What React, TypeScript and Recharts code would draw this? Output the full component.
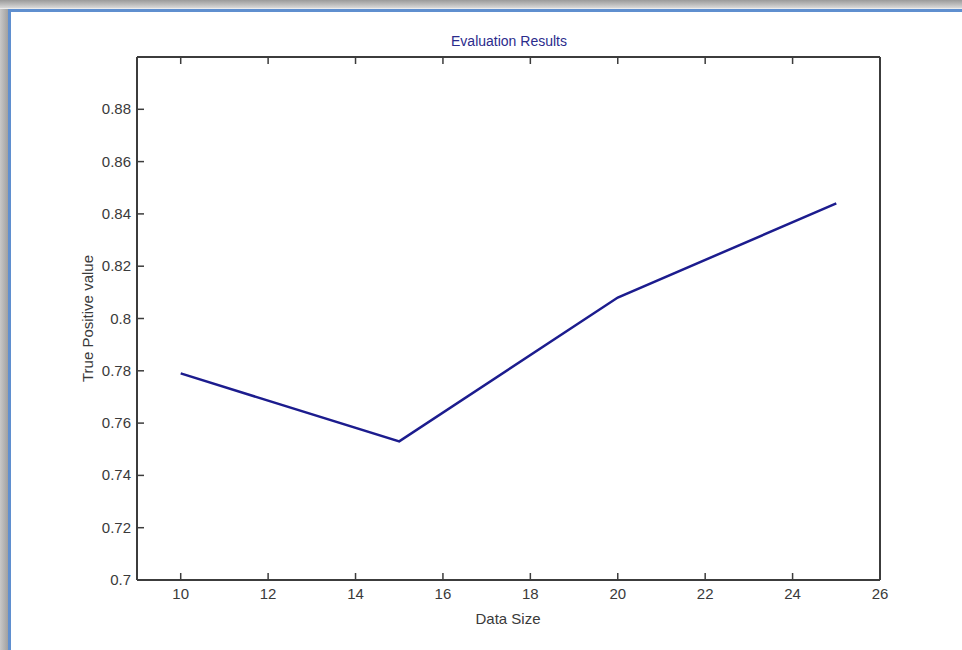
import React from "react";
import { LineChart, Line, XAxis, YAxis } from "recharts";

// values
const dataSizes = [10, 15, 20, 25];
const truePositive = [0.779, 0.753, 0.808, 0.844];

const xTicks = [10, 12, 14, 16, 18, 20, 22, 24, 26];
const yTicks = [0.7, 0.72, 0.74, 0.76, 0.78, 0.8, 0.82, 0.84, 0.86, 0.88];

const data = dataSizes.map((x, i) => ({ x, tp: truePositive[i] }));

const AXIS = "#3c3c3c";
const TEXT = "#3a3a3a";
const FONT = "'Liberation Sans', Arial, sans-serif";
const TICK_LEN = 7;
const GAP = 9;

// bottom axis: label below, tick mark pointing up into the plot
const BottomTick = (props: any) => {
  const { x, y, payload } = props;
  const axisY = y - GAP;
  return (
    <g>
      <line x1={x} x2={x} y1={axisY} y2={axisY - TICK_LEN} stroke={AXIS} strokeWidth={1.5} />
      <text x={x} y={axisY + 19} textAnchor="middle" fontSize={15} fill={TEXT} fontFamily={FONT}>
        {payload.value}
      </text>
    </g>
  );
};

const TopTick = (props: any) => {
  const { x, y } = props;
  const axisY = y + GAP;
  return <line x1={x} x2={x} y1={axisY} y2={axisY + TICK_LEN} stroke={AXIS} strokeWidth={1.5} />;
};

const LeftTick = (props: any) => {
  const { x, y, payload } = props;
  const axisX = x + GAP;
  return (
    <g>
      <line x1={axisX} x2={axisX + TICK_LEN} y1={y} y2={y} stroke={AXIS} strokeWidth={1.5} />
      <text x={axisX - 6} y={y + 5} textAnchor="end" fontSize={15} fill={TEXT} fontFamily={FONT}>
        {Number(payload.value.toFixed(2)).toString()}
      </text>
    </g>
  );
};

const RightTick = (props: any) => {
  const { x, y } = props;
  const axisX = x - GAP;
  return <line x1={axisX} x2={axisX - TICK_LEN} y1={y} y2={y} stroke={AXIS} strokeWidth={1.5} />;
};

export default function App() {
  return (
    <div
      style={{
        position: "absolute",
        left: 0,
        top: 0,
        width: 962,
        height: 650,
        overflow: "hidden",
        background: "linear-gradient(to bottom, #9a9a9a 0px, #d8d8d8 8px, #fff 9px)",
      }}
    >
      <div
        style={{
          position: "absolute",
          left: 0,
          top: 9,
          width: 8,
          height: 641,
          background: "linear-gradient(to right, #c8c8c8, #a0a0a0)",
        }}
      />
      <div
        style={{
          position: "absolute",
          left: 8,
          top: 9,
          width: 954,
          height: 641,
          background: "#fff",
          borderLeft: "3px solid #5f8fcf",
          borderTop: "3px solid #5f8fcf",
          boxSizing: "border-box",
        }}
      />
      <div style={{ position: "absolute", left: 0, top: 0 }}>
        <LineChart
          width={962}
          height={650}
          data={data}
          margin={{ top: 27, right: 52, bottom: 40, left: 77 }}
        >
          <text x={509} y={46} textAnchor="middle" fontSize={14} fill="#2b2b8c" fontFamily={FONT}>
            Evaluation Results
          </text>
          <XAxis
            xAxisId="bottom"
            dataKey="x"
            type="number"
            domain={[9, 26]}
            ticks={xTicks}
            interval={0}
            height={30}
            tickSize={0}
            tickMargin={GAP}
            tickLine={false}
            axisLine={{ stroke: AXIS, strokeWidth: 2 }}
            tick={<BottomTick />}
          />
          <XAxis
            xAxisId="top"
            orientation="top"
            dataKey="x"
            type="number"
            domain={[9, 26]}
            ticks={xTicks}
            interval={0}
            height={30}
            tickSize={0}
            tickMargin={GAP}
            tickLine={false}
            axisLine={{ stroke: AXIS, strokeWidth: 2 }}
            tick={<TopTick />}
          />
          <YAxis
            yAxisId="left"
            type="number"
            domain={[0.7, 0.9]}
            ticks={yTicks}
            interval={0}
            width={60}
            tickSize={0}
            tickMargin={GAP}
            tickLine={false}
            axisLine={{ stroke: AXIS, strokeWidth: 2 }}
            tick={<LeftTick />}
            label={{
              value: "True Positive value",
              angle: -90,
              position: "insideLeft",
              offset: 11,
              style: { textAnchor: "middle", fontSize: 15, fill: TEXT, fontFamily: FONT },
            }}
          />
          <YAxis
            yAxisId="right"
            orientation="right"
            type="number"
            domain={[0.7, 0.9]}
            ticks={yTicks}
            interval={0}
            width={30}
            tickSize={0}
            tickMargin={GAP}
            tickLine={false}
            axisLine={{ stroke: AXIS, strokeWidth: 2 }}
            tick={<RightTick />}
          />
          <Line
            xAxisId="bottom"
            yAxisId="left"
            dataKey="tp"
            type="linear"
            stroke="#1c1c8e"
            strokeWidth={2.5}
            dot={false}
            isAnimationActive={false}
          />
          <text x={508} y={624} textAnchor="middle" fontSize={15} fill={TEXT} fontFamily={FONT}>
            Data Size
          </text>
        </LineChart>
      </div>
    </div>
  );
}
